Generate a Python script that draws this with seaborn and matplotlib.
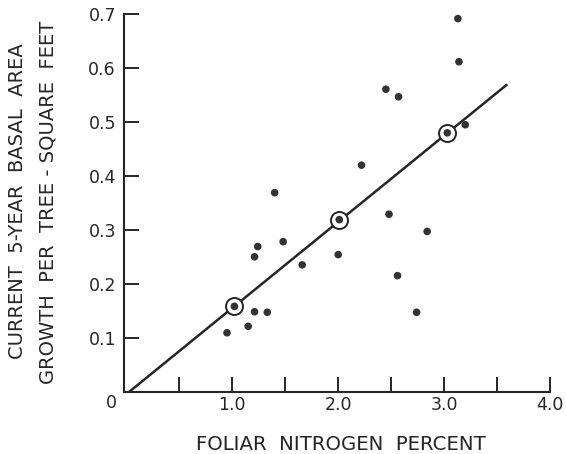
import matplotlib
matplotlib.use("Agg")
import matplotlib.pyplot as plt
import seaborn as sns
import pandas as pd

# Scatter data: foliar nitrogen (%) vs 5-year basal area growth (sq ft)
nitrogen = [0.95, 1.15, 1.21, 1.33, 1.21, 1.24, 1.40, 1.48, 1.66, 2.00,
            2.22, 2.48, 2.56, 2.74, 2.84, 2.45, 2.57, 3.13, 3.14, 3.20]
growth = [0.109, 0.121, 0.148, 0.147, 0.250, 0.269, 0.369, 0.278, 0.235, 0.254,
          0.420, 0.329, 0.215, 0.147, 0.297, 0.561, 0.547, 0.692, 0.612, 0.495]

# Circled (mean) points on the regression line
mean_x = [1.02, 2.01, 3.03]
mean_y = [0.158, 0.319, 0.480]

# Regression line endpoints
line_x = [0.03, 3.59]
line_y = [0.0, 0.569]

x_ticks = [0.5, 1.0, 1.5, 2.0, 2.5, 3.0, 3.5, 4.0]
x_ticklabels = ["", "1.0", "", "2.0", "", "3.0", "", "4.0"]
y_ticks = [0.1, 0.2, 0.3, 0.4, 0.5, 0.6, 0.7]
y_ticklabels = ["0.1", "0.2", "0.3", "0.4", "0.5", "0.6", "0.7"]

sns.set_style("ticks")
plt.rcParams["font.family"] = ["DejaVu Sans"]
ink = "#262626"

fig = plt.figure(figsize=(5.66, 4.54), dpi=100)
ax = fig.add_axes([124.3 / 566, 62.5 / 454, 425.7 / 566, 377.2 / 454])

df = pd.DataFrame({"n": nitrogen, "g": growth})
dm = pd.DataFrame({"n": mean_x, "g": mean_y})
dl = pd.DataFrame({"n": line_x, "g": line_y})

sns.lineplot(data=dl, x="n", y="g", ax=ax, color=ink, linewidth=1.8, zorder=2)
sns.scatterplot(data=df, x="n", y="g", ax=ax, color="#333333", s=30,
                edgecolor="none", zorder=3)
# ring around mean points
sns.scatterplot(data=dm, x="n", y="g", ax=ax, s=150, color="white",
                edgecolor=ink, linewidth=1.4, zorder=4)
sns.scatterplot(data=dm, x="n", y="g", ax=ax, s=30, color="#333333",
                edgecolor="none", zorder=5)

ax.set_xlim(-0.02, 4.0)
ax.set_ylim(0.0, 0.7)
ax.set_xticks(x_ticks)
ax.set_xticklabels(x_ticklabels)
ax.set_yticks(y_ticks)
ax.set_yticklabels(y_ticklabels)
ax.tick_params(direction="in", length=11, width=1.4, color=ink,
               labelsize=12.5, labelcolor=ink)
ax.tick_params(axis="x", pad=3)
ax.tick_params(axis="y", pad=6)
for s in ["top", "right"]:
    ax.spines[s].set_visible(False)
for s in ["left", "bottom"]:
    ax.spines[s].set_linewidth(1.5)
    ax.spines[s].set_color(ink)
ax.set_xlabel("")
ax.set_ylabel("")

ax.annotate("0", xy=(0, 0), xycoords=("axes fraction", "axes fraction"),
            xytext=(-9.5, -8.3), textcoords="offset points",
            ha="center", va="center", fontsize=12.5, color=ink)

fig.text(341 / 566, 1 - 445 / 454, "FOLIAR  NITROGEN  PERCENT", ha="center",
         va="center", fontsize=14.2, color=ink)
fig.text(18 / 566, 1 - 201 / 454, "CURRENT  5-YEAR  BASAL  AREA", rotation=90,
         ha="center", va="center", fontsize=14, color=ink)
fig.text(48 / 566, 1 - 202 / 454, "GROWTH  PER  TREE - SQUARE  FEET",
         rotation=90, ha="center", va="center", fontsize=14, color=ink)

fig.savefig("out.png", dpi=100)
